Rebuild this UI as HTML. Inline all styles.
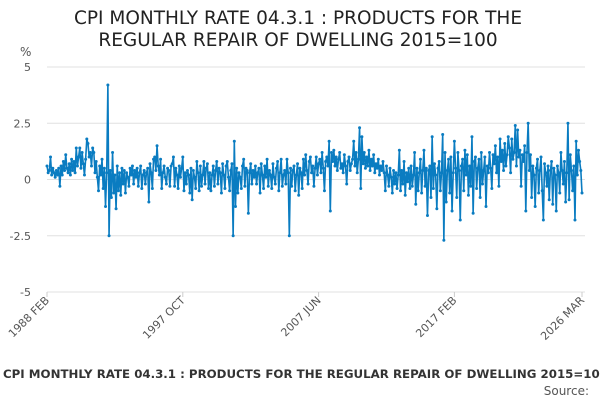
<!DOCTYPE html>
<html><head><meta charset="utf-8"><style>
body{margin:0;background:#fff;font-family:"DejaVu Sans",sans-serif}
svg{display:block}
</style></head><body>
<svg id="c" width="600" height="400" xmlns="http://www.w3.org/2000/svg" font-family="DejaVu Sans, sans-serif">
<text x="298" y="24" text-anchor="middle" font-size="18.5" fill="#222">CPI MONTHLY RATE 04.3.1 : PRODUCTS FOR THE</text>
<text x="298" y="46" text-anchor="middle" font-size="18.5" fill="#222">REGULAR REPAIR OF DWELLING 2015=100</text>
<text x="20" y="56" font-size="12" fill="#555">%</text>
<g id="grid"></g><g id="xl"></g><g id="series"></g>
<text x="3" y="378" font-size="11.8" font-weight="bold" fill="#333">CPI MONTHLY RATE 04.3.1 : PRODUCTS FOR THE REGULAR REPAIR OF DWELLING 2015=100</text>
<text x="589" y="395" text-anchor="end" font-size="12" fill="#555">Source:</text>
</svg>
<script>
const yTicks=[5,2.5,0,-2.5,-5];
const yTickLabels=["5","2.5","0","-2.5","-5"];
const xTickLabels=["1988 FEB","1997 OCT","2007 JUN","2017 FEB","2026 MAR"];
const xTickIndex=[0,116,232,348,457];
const values=[
0.6,0.3,0.4,1.0,0.2,0.5,0.3,0.1,0.4,0.2,0.5,
-0.3,0.6,0.2,0.8,0.4,1.1,0.5,0.3,0.7,0.2,0.9,0.4,
0.8,0.3,1.4,0.6,1.0,1.4,0.5,1.2,0.7,0.2,0.9,1.8,
1.6,1.0,1.2,0.6,1.4,1.2,0.3,0.8,0.1,-0.5,0.6,0.2,
0.9,-0.4,0.5,-1.2,0.3,4.2,-2.5,0.4,-0.8,1.2,-0.6,0.2,
-1.3,0.6,-0.5,0.3,-0.7,0.5,-0.2,0.4,-0.6,0.3,0.1,-0.3,
0.5,0.2,0.6,-0.2,0.4,0.1,0.5,-0.3,0.3,0.6,-0.4,0.2,
0.4,-0.2,0.3,0.5,-1.0,0.7,0.3,-0.4,0.9,1.0,0.4,1.5,
0.6,0.2,0.9,-0.4,0.3,0.6,0.1,-0.2,0.5,0.4,-0.3,0.6,
0.7,1.0,-0.3,0.5,0.2,-0.4,0.6,0.1,0.5,1.0,-0.5,0.3,
-0.2,0.4,0.2,-0.6,0.5,-0.9,0.4,0.1,-0.4,0.8,0.3,-0.5,
0.6,-0.3,0.2,0.8,-0.2,0.5,0.7,-0.4,0.3,-0.5,0.2,0.6,
-0.3,0.4,0.8,-0.2,0.5,0.3,-0.6,0.7,0.2,-0.4,0.6,0.8,
0.1,-0.5,0.4,0.7,-2.5,1.7,-1.2,0.5,-0.6,0.3,0.1,-0.4,
0.6,0.9,-0.3,0.5,0.4,-1.5,0.3,0.7,-0.2,0.4,0.1,0.6,
-0.2,0.3,0.5,-0.6,0.7,0.2,-0.4,0.6,0.1,0.9,-0.3,0.4,
0.2,-0.4,0.7,0.1,-0.2,0.5,0.8,-0.5,0.3,0.9,-0.3,0.2,
0.4,-0.2,0.9,0.3,-2.5,0.5,-0.3,0.4,0.6,-0.5,0.2,0.7,
-0.7,0.5,0.3,-0.4,0.9,0.2,1.1,0.4,-0.2,0.8,1.0,0.3,
0.6,-0.3,0.5,1.0,0.2,0.7,0.9,0.3,1.2,0.5,-0.5,0.8,
1.0,0.6,1.7,-1.4,1.2,0.8,1.3,0.6,1.0,0.4,0.9,1.2,
0.5,0.7,0.3,1.1,0.6,-0.2,0.8,1.0,0.4,0.7,0.9,1.7,
0.6,1.2,0.3,0.9,2.3,-0.4,1.9,0.7,1.2,0.5,1.0,0.6,
1.3,0.4,0.9,0.6,1.1,0.3,0.7,0.5,0.9,0.2,0.6,0.4,
0.8,0.3,-0.5,0.6,0.2,-0.3,0.5,0.1,-0.6,0.4,-0.2,0.3,
-0.4,0.2,1.3,-0.5,0.4,-0.2,0.8,-0.7,0.3,-0.1,0.5,-0.4,
0.6,-0.3,0.2,1.2,-1.1,0.5,-0.5,0.3,0.9,-0.6,0.4,1.3,
-0.3,0.5,-1.6,0.4,0.6,-0.8,1.9,-0.4,0.7,0.2,-1.3,0.5,
0.8,-0.5,0.3,2.0,-2.7,1.2,-1.0,0.4,0.9,-0.6,1.0,-1.4,
0.3,1.7,0.5,-0.8,1.2,0.4,-1.8,0.6,0.9,-0.5,1.3,0.2,
1.1,-0.7,0.6,-0.3,1.9,-1.5,0.8,1.0,-0.4,0.5,0.9,-0.8,
1.2,-0.2,0.4,1.0,-1.2,0.6,0.3,1.2,0.5,-0.4,1.1,0.7,
1.5,0.3,1.0,-0.3,1.8,0.8,1.3,0.4,1.6,0.6,1.1,1.9,
1.4,0.3,1.8,0.9,1.2,2.4,0.6,2.2,1.0,1.3,-0.3,1.1,
0.8,1.5,-1.4,1.2,2.5,0.4,1.1,-0.8,0.6,0.2,-1.2,0.5,
0.9,-0.6,0.4,1.0,-0.5,-1.8,0.7,0.3,-0.3,0.6,-0.9,0.4,
0.8,-1.1,0.5,0.2,-1.4,0.6,0.3,-0.6,1.2,0.4,-0.2,0.8,
-1.0,0.3,2.5,-0.9,1.1,0.4,-0.5,0.6,-1.8,1.7,0.2,1.3,
0.8,0.4,-0.6
];
const NS="http://www.w3.org/2000/svg";
const X0=47,X1=582,Y0=67,Y1=292;
const n=values.length;
function xs(i){return X0+(X1-X0)*i/(n-1);}
function ys(v){return Y0+(5-v)*(Y1-Y0)/10;}
function mk(t,a){const e=document.createElementNS(NS,t);for(const k in a)e.setAttribute(k,a[k]);return e;}
const grid=document.getElementById('grid');
yTicks.forEach((t,i)=>{
  const l=mk('line',{x1:X0,x2:X1+3,y1:ys(t),y2:ys(t),stroke:'#e0e0e0','stroke-width':1});
  
  
  grid.appendChild(l);
  const tx=mk('text',{x:31,y:ys(t)+4,'text-anchor':'end','font-size':11,fill:'#555'});
  
  
  tx.textContent=yTickLabels[i];grid.appendChild(tx);
});
const xl=document.getElementById('xl');
xTickLabels.forEach((s,i)=>{
  const x=xs(Math.min(xTickIndex[i],n-1));
  const tk=mk('line',{x1:x,x2:x,y1:Y1,y2:Y1+5,stroke:'#ccc'});
  
  
  xl.appendChild(tk);
  const t=mk('text',{x:x+3,y:Y1+9,'text-anchor':'end','font-size':11,fill:'#555',transform:`rotate(-45 ${x+3} ${Y1+9})`});
  
  
  t.textContent=s;xl.appendChild(t);
});
const g=document.getElementById('series');
let d='';values.forEach((v,i)=>{d+=(i?'L':'M')+xs(i).toFixed(2)+' '+ys(v).toFixed(2);});
const p=mk('path',{d:d,fill:'none',stroke:'#0a7cc1','stroke-width':1.6,'stroke-linejoin':'round'});


g.appendChild(p);
values.forEach((v,i)=>{
  const c=mk('circle',{cx:xs(i),cy:ys(v),r:1.5,fill:'#0a7cc1'});
  
  
  g.appendChild(c);
});
</script>
</body></html>
